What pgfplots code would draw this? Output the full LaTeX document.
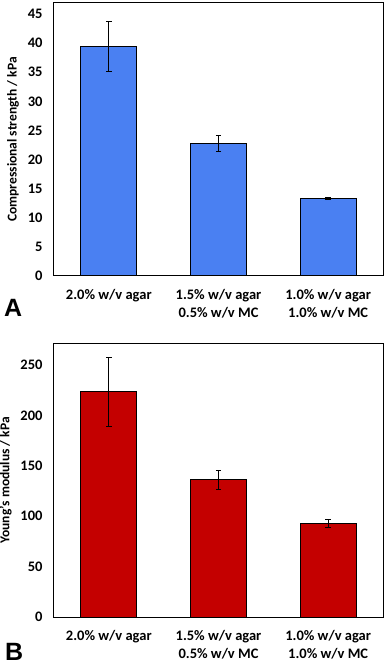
\documentclass[border=0pt]{standalone}
\usepackage{pgfplots}
\pgfplotsset{compat=1.18}
\usepackage{fontspec}
\setmainfont{Carlito}[BoldFont={Carlito Bold}]
\setsansfont{Carlito}[BoldFont={Carlito Bold}]
\newfontfamily\letterfont{Liberation Sans}[BoldFont={Liberation Sans Bold}]
\definecolor{barblue}{RGB}{74,128,242}
\definecolor{barred}{RGB}{196,0,0}
\newcommand{\xtfont}{\fontsize{14.5}{18}\selectfont\bfseries}
\newcommand{\ytfont}{\fontsize{14.5}{16}\selectfont\bfseries}
\newcommand{\ylfont}{\fontsize{13.5}{14}\selectfont\bfseries}
\pgfplotsset{
  panel/.style={
    scale only axis, width=329pt, height=273pt,
    anchor=south west,
    xmin=-0.5, xmax=2.5,
    xtick={0,1,2},
    xticklabels={2.0\% w/v agar, {1.5\% w/v agar\\0.5\% w/v MC}, {1.0\% w/v agar\\1.0\% w/v MC}},
    xticklabel style={align=center, font=\xtfont, yshift=-6pt},
    x tick style={draw=none},
    extra x ticks={0.5,1.5}, extra x tick labels={},
    extra x tick style={tick style={draw=black, line width=0.8pt}, major tick length=4pt},
    xtick pos=bottom, xtick align=inside,
    ytick pos=left, y tick style={draw=none},
    yticklabel style={font=\ytfont, /pgf/number format/assume math mode=true, xshift=-8pt},
    axis line style={line width=1pt},
    ylabel style={font=\ylfont, yshift=2pt},
    ybar, bar shift=0pt, bar width=56pt,
  },
  bars/.style={draw=black, line width=1pt, fill=#1,
    error bars/.cd, y dir=both, y explicit,
    error bar style={line width=1pt, black},
    error mark options={rotate=90, mark size=2.7pt, line width=1pt, black}},
}
\begin{document}
\begin{tikzpicture}
\useasboundingbox (0,0) rectangle (390pt,664pt);
\begin{axis}[panel, at={(54pt,388pt)}, ymin=0, ymax=46.9, ytick={0,5,...,45},
  ylabel={Compressional strength / kPa}]
\addplot[bars=barblue] coordinates {
  (0,39.4) +- (0,4.3)
  (1,22.8) +- (0,1.35)
  (2,13.3) +- (0,0.15)
};
\end{axis}
\begin{axis}[panel, at={(54pt,47pt)}, ymin=0, ymax=271, ytick={0,50,...,250},
  ylabel={Young's modulus / kPa}]
\addplot[bars=barred] coordinates {
  (0,223.5) +- (0,34.5)
  (1,136) +- (0,9)
  (2,93) +- (0,3.7)
};
\end{axis}
\node[anchor=base west, font=\letterfont\fontsize{25}{25}\selectfont\bfseries, inner sep=0pt] at (4pt,347.3pt) {A};
\node[anchor=base west, font=\letterfont\fontsize{25}{25}\selectfont\bfseries, inner sep=0pt] at (5pt,4pt) {B};
\end{tikzpicture}
\end{document}
